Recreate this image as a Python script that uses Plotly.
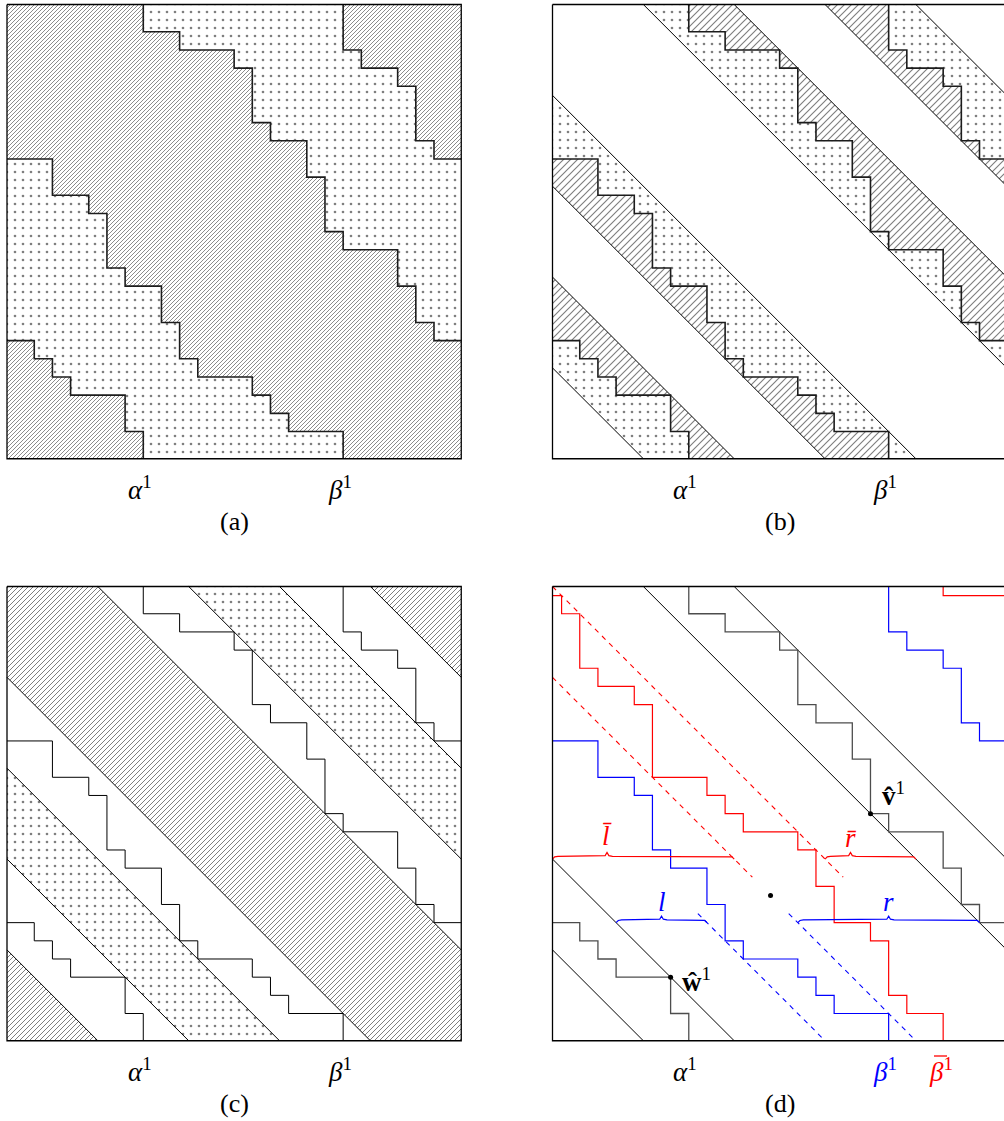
import plotly.graph_objects as go

# ---------------- data (grid units, y measured downward from top edge) ----------------
N = 25
S_x = [7.5, 7.5, 9.5, 9.5, 12.5, 12.5, 13.5, 13.5, 14.5, 14.5, 16.5, 16.5, 17.5, 17.5, 18.5, 18.5, 21.5, 21.5, 22.5, 22.5, 23.5, 23.5, 25]
S_y = [0, 1.5, 1.5, 2.5, 2.5, 3.5, 3.5, 6.5, 6.5, 7.5, 7.5, 9.5, 9.5, 12.5, 12.5, 13.5, 13.5, 15.5, 15.5, 17.5, 17.5, 18.5, 18.5]
T_x = [18.5, 18.5, 19.5, 19.5, 21.5, 21.5, 22.5, 22.5, 23.5, 23.5, 25]
T_y = [0, 2.5, 2.5, 3.5, 3.5, 4.5, 4.5, 7.5, 7.5, 8.5, 8.5]
L_x = [0, 2.5, 2.5, 4.5, 4.5, 5.5, 5.5, 6.5, 6.5, 8.5, 8.5, 9.5, 9.5, 10.5, 10.5, 13.5, 13.5, 14.5, 14.5, 15.5, 15.5, 18.5, 18.5]
L_y = [8.5, 8.5, 10.5, 10.5, 11.5, 11.5, 14.5, 14.5, 15.5, 15.5, 17.5, 17.5, 19.5, 19.5, 20.5, 20.5, 21.5, 21.5, 22.5, 22.5, 23.5, 23.5, 25]
B_x = [0, 1.5, 1.5, 2.5, 2.5, 3.5, 3.5, 6.5, 6.5, 7.5, 7.5]
B_y = [18.5, 18.5, 19.5, 19.5, 20.5, 20.5, 21.5, 21.5, 23.5, 23.5, 25]
R_x = [0, 0.5, 0.5, 1.5, 1.5, 2.5, 2.5, 4.5, 4.5, 5.5, 5.5, 8.5, 8.5, 9.5, 9.5, 10.5, 10.5, 13.5, 13.5, 14.5, 14.5, 15.5, 15.5, 17.5, 17.5, 18.5, 18.5, 19.5, 19.5, 21.5, 21.5]
R_y = [0.5, 0.5, 1.5, 1.5, 4.5, 4.5, 5.5, 5.5, 6.5, 6.5, 10.5, 10.5, 11.5, 11.5, 12.5, 12.5, 13.5, 13.5, 14.5, 14.5, 16.5, 16.5, 18.5, 18.5, 19.5, 19.5, 22.5, 22.5, 23.5, 23.5, 25]
R_top_x = [21.5, 21.5, 25]
R_top_y = [0, 0.5, 0.5]

DIAG_B = [-20, -15, -10, -5, 5, 10, 15, 20]
DIAG_C = [-20, -15, -10, -5, 5, 10, 15, 20]
DIAG_D = [-20, -15, 5, 10]
HATCH_C = [(-5, 5), (20, 25), (-25, -20)]
DOT_C = [(10, 15), (-15, -10)]

RED_DASH = [(0, 0, 16), (-5, 5, 16)]      # (offset, y start, y end)
BLUE_DASH = [(-10, 18, 25), (-5, 18, 25)]
BRACES = [  # x0, x1, y, tip fraction, color, label, label x, label y
    (0, 10, 15, 0.3, "#ff0000", "<i>l̄</i>", 3.0, 13.75),
    (15, 20, 15, 0.28, "#ff0000", "<i>r̄</i>", 16.4, 13.85),
    (3.5, 8.5, 18.5, 0.5, "#0000ff", "<i>l</i>", 6.0, 17.35),
    (13.5, 23.5, 18.5, 0.5, "#0000ff", "<i>r</i>", 18.5, 17.35),
]
PTS_D_x = [17.5, 6.5, 12]
PTS_D_y = [12.5, 21.5, 17]

AX_LABELS = ["<i>α</i><sup>1</sup>", "<i>β</i><sup>1</sup>"]
AX_LABEL_POS = [7.3, 18.3]
CAPTIONS = ["(a)", "(b)", "(c)", "(d)"]

# ---------------- layout geometry ----------------
W, H = 1004, 1121
U = 18.17
ORIG = [(7.0, 4.5), (552.5, 4.5), (7.0, 586.5), (552.5, 586.5)]
PADX_PX = [4.0, 4.5, 4.0, 4.5]
PADY_PX = 4.5
LABEL_Y = [488.0, 488.0, 1070.0, 1070.0]
CAPTION_Y = [521.0, 521.0, 1103.0, 1103.0]
FONT = "Liberation Serif, Times New Roman, serif"

fig = go.Figure()
layout = dict(width=W, height=H, margin=dict(l=0, r=0, t=0, b=0),
              paper_bgcolor="white", plot_bgcolor="white", showlegend=False)
for k, (px, py) in enumerate(ORIG, start=1):
    padx = PADX_PX[k - 1] / U
    pady = PADY_PX / U
    x_lo = -padx
    x_hi = min(N + padx, (W - px) / U)
    dx = [max(0, (px + x_lo * U) / W), min(1.0, (px + x_hi * U) / W)]
    dy = [1 - (py + (N + pady) * U) / H, 1 - (py - pady * U) / H]
    sfx = "" if k == 1 else str(k)
    layout["xaxis" + sfx] = dict(domain=dx, range=[x_lo, x_hi], visible=False, fixedrange=True)
    layout["yaxis" + sfx] = dict(domain=dy, range=[N + pady, -pady], visible=False, fixedrange=True)
fig.update_layout(**layout)


def ax(k):
    return ("x" if k == 1 else "x%d" % k), ("y" if k == 1 else "y%d" % k)


def ps(c):
    return (c, 0) if c >= 0 else (0, -c)


def pe(c):
    return (N, N - c) if c >= 0 else (N + c, N)


def strip_poly(c1, c2):
    pts = [ps(c1), pe(c1)]
    if c1 < 0 < c2:
        pts.append((N, N))
    pts += [pe(c2), ps(c2)]
    if c1 < 0 < c2:
        pts.append((0, 0))
    return [p[0] for p in pts], [p[1] for p in pts]


def fill(k, xs, ys, kind, tile=None, stroke=0.8):
    xa, ya = ax(k)
    if kind == "/":
        size = tile / 2 ** 0.5
        pat = dict(shape="/", size=size, solidity=stroke / size, fgcolor="black", bgcolor="white")
    else:
        pat = dict(shape=".", size=8, solidity=0.088, fgcolor="black", bgcolor="white")
    fig.add_trace(go.Scatter(x=list(xs), y=list(ys), xaxis=xa, yaxis=ya, mode="lines",
                             fill="toself", fillcolor="white", fillpattern=pat,
                             line=dict(width=0, color="rgba(0,0,0,0)"), hoverinfo="skip"))


def line(k, xs, ys, color="black", width=1.0, dash=None, shape="linear"):
    xa, ya = ax(k)
    fig.add_trace(go.Scatter(x=list(xs), y=list(ys), xaxis=xa, yaxis=ya, mode="lines",
                             line=dict(color=color, width=width, dash=dash, shape=shape),
                             hoverinfo="skip"))


def diag(k, c, color="black", width=1.0):
    a, b = ps(c), pe(c)
    line(k, [a[0], b[0]], [a[1], b[1]], color, width)


def border(k):
    line(k, [0, N, N, 0, 0], [0, 0, N, N, 0], "black", 1.3)


# horizontal repeat of the hatch lines, px
TA, TB, TC = 4.0, 7.0, 5.0
STAIR_C = "#1c1c1c"

# ---------------- panel (a) ----------------
fill(1, [0, N, N, 0], [0, 0, N, N], "/", TA, 0.9)
fill(1, S_x + T_x[::-1], S_y + T_y[::-1], ".")
fill(1, L_x + B_x[::-1], L_y + B_y[::-1], ".")
for sx, sy in [(S_x, S_y), (T_x, T_y), (L_x, L_y), (B_x, B_y)]:
    line(1, sx, sy, STAIR_C, 1.6)
border(1)

# ---------------- panel (b) ----------------
for sx, sy, c_lo, c_hi, lo_kind in [(S_x, S_y, 5, 10, "."), (T_x, T_y, 15, 20, "/"),
                                    (L_x, L_y, -10, -5, "/"), (B_x, B_y, -20, -15, ".")]:
    hi_kind = "/" if lo_kind == "." else "."
    a, b = pe(c_lo), ps(c_lo)
    fill(2, sx + [a[0], b[0]], sy + [a[1], b[1]], lo_kind, TB, 1.15)
    a, b = pe(c_hi), ps(c_hi)
    fill(2, sx + [a[0], b[0]], sy + [a[1], b[1]], hi_kind, TB, 1.15)
for c in DIAG_B:
    diag(2, c)
for sx, sy in [(S_x, S_y), (T_x, T_y), (L_x, L_y), (B_x, B_y)]:
    line(2, sx, sy, STAIR_C, 1.6)
border(2)

# ---------------- panel (c) ----------------
for c1, c2 in HATCH_C:
    xs, ys = strip_poly(c1, c2)
    fill(3, xs, ys, "/", TC, 1.0)
for c1, c2 in DOT_C:
    xs, ys = strip_poly(c1, c2)
    fill(3, xs, ys, ".")
for c in DIAG_C:
    diag(3, c)
for sx, sy in [(S_x, S_y), (T_x, T_y), (L_x, L_y), (B_x, B_y)]:
    line(3, sx, sy, "black", 1.0)
border(3)

# ---------------- panel (d) ----------------
for c in DIAG_D:
    diag(4, c, "black", 1.0)
for sx, sy in [(S_x, S_y), (B_x, B_y)]:
    line(4, sx, sy, "#4d4d4d", 1.3)
for sx, sy in [(L_x, L_y), (T_x, T_y)]:
    line(4, sx, sy, "#0000ff", 1.2)
line(4, R_x, R_y, "#ff0000", 1.2)
line(4, R_top_x, R_top_y, "#ff0000", 1.2)
for c, y0, y1 in RED_DASH:
    line(4, [y0 + c, y1 + c], [y0, y1], "#ff0000", 1.1, dash="5px,5px")
for c, y0, y1 in BLUE_DASH:
    line(4, [y0 + c, y1 + c], [y0, y1], "#0000ff", 1.1, dash="5px,5px")

annos = []
for x0, x1, yb, f, col, lab, lx, ly in BRACES:
    xt = x0 + f * (x1 - x0)
    bx = [x0, x0 + 0.12, x0 + 0.3, xt - 0.3, xt - 0.1, xt, xt + 0.1, xt + 0.3, x1 - 0.3, x1 - 0.12, x1]
    by = [yb, yb - 0.12, yb - 0.15, yb - 0.15, yb - 0.19, yb - 0.36, yb - 0.19, yb - 0.15, yb - 0.15, yb - 0.12, yb]
    line(4, bx, by, col, 1.2)
    annos.append(dict(x=lx, y=ly, xref="x4", yref="y4", text=lab, showarrow=False,
                      xanchor="center", yanchor="middle",
                      font=dict(family=FONT, size=27, color=col)))
fig.add_trace(go.Scatter(x=PTS_D_x, y=PTS_D_y, xaxis="x4", yaxis="y4", mode="markers",
                         marker=dict(size=5, color="black"), hoverinfo="skip"))
annos.append(dict(x=18.0, y=11.4, xref="x4", yref="y4", xanchor="left", yanchor="middle",
                  text="<b>v̂</b><sup>1</sup>", showarrow=False,
                  font=dict(family=FONT, size=27, color="black")))
annos.append(dict(x=7.0, y=21.65, xref="x4", yref="y4", xanchor="left", yanchor="middle",
                  text="<b>ŵ</b><sup>1</sup>", showarrow=False,
                  font=dict(family=FONT, size=27, color="black")))
border(4)

# ---------------- axis labels & captions ----------------
for k in range(1, 5):
    xa, ya = ax(k)
    cols = ["black", "black"]
    if k == 4:
        cols = ["black", "#0000ff"]
    for lab, pos, col in zip(AX_LABELS, AX_LABEL_POS, cols):
        annos.append(dict(x=pos, y=1 - LABEL_Y[k - 1] / H, xref=xa, yref="paper", text=lab,
                          xanchor="center", yanchor="middle",
                          showarrow=False, font=dict(family=FONT, size=27, color=col)))
    annos.append(dict(x=12.5, y=1 - CAPTION_Y[k - 1] / H, xref=xa, yref="paper",
                      text=CAPTIONS[k - 1], showarrow=False, xanchor="center", yanchor="middle",
                      font=dict(family=FONT, size=26, color="black")))
# beta-bar label: beta with superscript, macron drawn as a short stroke above it
annos.append(dict(x=21.4, y=1 - LABEL_Y[3] / H, xref="x4", yref="paper", text="<i>β</i><sup>1</sup>",
                  xanchor="center", yanchor="middle",
                  showarrow=False, font=dict(family=FONT, size=27, color="#ff0000")))
fig.update_layout(annotations=annos)
MACRON_PX = (934.0, 947.0, 1056.0)
fig.add_shape(type="line", xref="x4", yref="paper",
              x0=(MACRON_PX[0] - 552.5) / U, x1=(MACRON_PX[1] - 552.5) / U,
              y0=1 - MACRON_PX[2] / H, y1=1 - MACRON_PX[2] / H,
              line=dict(color="#ff0000", width=1.3))

fig.write_html("out.html", config={"displayModeBar": False},
               post_script="document.body.style.margin='0px';")
